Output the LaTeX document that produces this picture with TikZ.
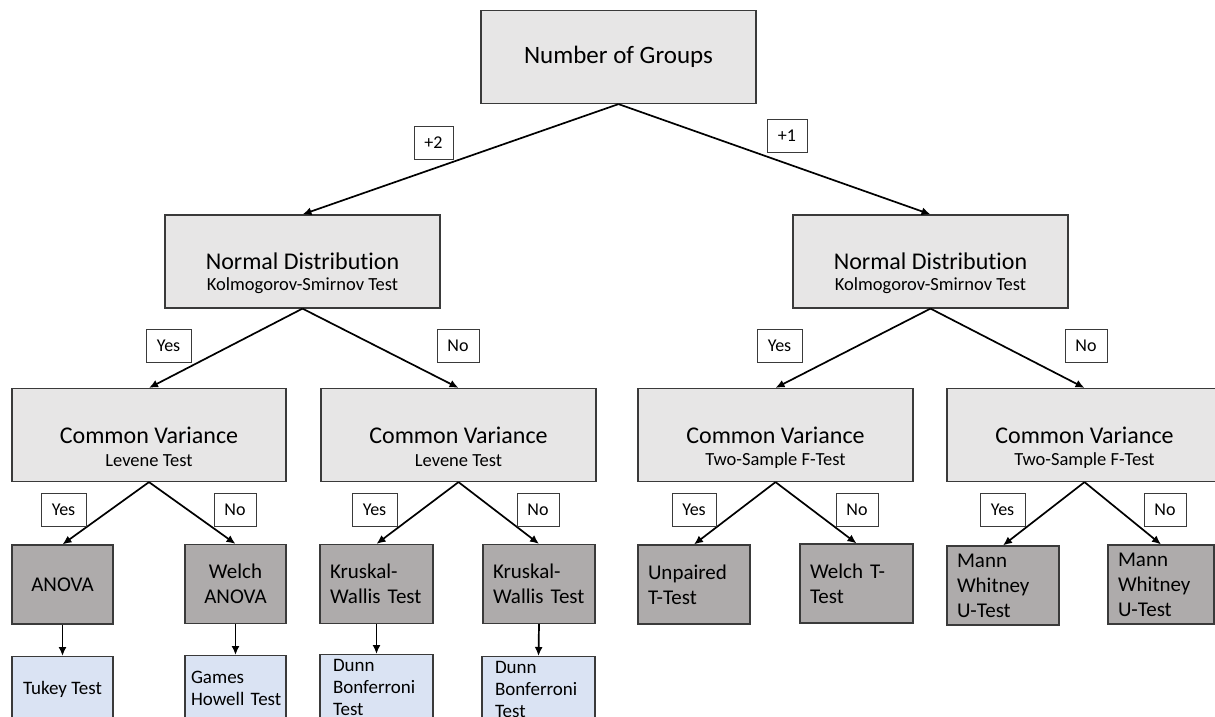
\documentclass[tikz,border=0pt]{standalone}
\usepackage{fontspec}
\setmainfont{Carlito}[Ligatures=NoCommon]
\usepackage{xcolor}
\definecolor{linegray}{HTML}{3A3A3A}
\definecolor{boxgray}{HTML}{E7E6E6}
\definecolor{testgray}{HTML}{AEABAB}
\definecolor{postblue}{HTML}{DAE3F3}
\usetikzlibrary{arrows.meta,positioning}
\tikzset{%
    box/.style={draw=linegray, line width=1.2pt, inner sep=0pt},
    groupbox/.style={box, fill=boxgray, minimum width=275pt, minimum height=93pt,
        font=\fontsize{24}{28}\selectfont},
    subtxt/.style={inner sep=0pt, font=\fontsize{18.5}{22}\selectfont},
    testbox/.style={box, fill=testgray, minimum height=79pt,
        font=\fontsize{21}{25}\selectfont},
    posthoc/.style={box, fill=postblue, minimum height=66pt, anchor=north,
        font=\fontsize{19}{22}\selectfont},
    lefttext/.style 2 args={align=left, text width=#1, inner xsep=#2},
    answer/.style={draw=linegray, line width=1pt, fill=white, inner sep=0pt,
        minimum width=44pt, minimum height=33pt, font=\fontsize{18}{21}\selectfont},
    flow/.style={-{Latex[length=9pt,width=8pt]}, line width=1.7pt}
}
\begin{document}
\begin{tikzpicture}[x=1pt,y=-1pt]
    \path[use as bounding box, fill=white] (0,0) rectangle (1215,717);

    % first split
    \node[groupbox, font=\fontsize{25}{29}\selectfont] (groups) at (618.5,57) {Number of Groups};
    \node[groupbox] (ndL) at (302.5,261.5) {Normal Distribution};
    \node[groupbox] (ndR) at (930.5,261.5) {Normal Distribution};
    \node[subtxt] (ndLsub) at ([yshift=-24pt]ndL.center) {Kolmogorov-Smirnov Test};
    \node[subtxt] (ndRsub) at ([yshift=-24pt]ndR.center) {Kolmogorov-Smirnov Test};
    \draw[flow] (groups.south) -- (ndL.north);
    \draw[flow] (groups.south) -- (ndR.north);
    \node[answer, minimum width=39pt] (two) at (433.5,142.5) {+2};
    \node[answer, minimum width=40pt] (one) at (787,135.5) {+1};

    % variance checks
    \node[groupbox, minimum width=274pt] (cv1) at (149,435) {Common Variance};
    \node[groupbox] (cv2) at (458.5,435) {Common Variance};
    \node[groupbox] (cv3) at (775.5,435) {Common Variance};
    \node[groupbox] (cv4) at (1084.5,435) {Common Variance};
    \node[subtxt] (cv1sub) at ([yshift=-26pt]cv1.center) {Levene Test};
    \node[subtxt] (cv2sub) at ([yshift=-26pt]cv2.center) {Levene Test};
    \node[subtxt] (cv3sub) at ([yshift=-26pt]cv3.center) {Two-Sample F-Test};
    \node[subtxt] (cv4sub) at ([yshift=-26pt]cv4.center) {Two-Sample F-Test};
    \draw[flow] (ndL.south) -- (cv1.north);
    \draw[flow] (ndL.south) -- (cv2.north);
    \draw[flow] (ndR.south) -- (cv3.north);
    \draw[flow] (ndR.south) -- (cv4.north);
    \node[answer, minimum width=45pt] (yesL) at (168.5,345.5) {Yes};
    \node[answer, minimum width=42pt] (noL) at (458,345.5) {No};
    \node[answer, minimum width=45pt] (yesR) at (779.5,345.5) {Yes};
    \node[answer, minimum width=42pt] (noR) at (1086,345.5) {No};

    % tests
    \node[testbox, minimum width=101pt] (anova) at (62.5,584.5) {ANOVA};
    \node[testbox, minimum width=101pt, align=center] (welch) at (235.5,584) {Welch\\ANOVA};
    \node[testbox, lefttext={93pt}{10pt}] (kw1) at (376.5,584) {Kruskal-\\Wallis Test};
    \node[testbox, lefttext={92pt}{10pt}] (kw2) at (539,584) {Kruskal-\\Wallis Test};
    \node[testbox, lefttext={92pt}{10pt}] (unpaired) at (694,584.5) {Unpaired\\T-Test};
    \node[testbox, lefttext={93pt}{10pt}] (welcht) at (856.5,583.5) {Welch T-\\Test};
    \node[testbox, lefttext={92pt}{10pt}] (mw1) at (1003,585.5) {Mann\\Whitney\\U-Test};
    \node[testbox, lefttext={86pt}{10pt}] (mw2) at (1161,584.5) {Mann\\Whitney\\U-Test};
    \foreach \cv/\a/\b in {cv1/anova/welch, cv2/kw1/kw2, cv3/unpaired/welcht, cv4/mw1/mw2}{
        \draw[flow] (\cv.south) -- (\a.north);
        \draw[flow] (\cv.south) -- (\b.north);
    }
    \node[answer, minimum width=45pt] (yes1) at (63.5,509.5) {Yes};
    \node[answer, minimum width=42pt] (no1) at (235,509.5) {No};
    \node[answer, minimum width=45pt] (yes2) at (374.5,509.5) {Yes};
    \node[answer, minimum width=42pt] (no2) at (538,509.5) {No};
    \node[answer, minimum width=44pt] (yes3) at (694,509.5) {Yes};
    \node[answer, minimum width=42pt] (no3) at (857,509.5) {No};
    \node[answer, minimum width=45pt] (yes4) at (1002.5,509.5) {Yes};
    \node[answer, minimum width=42pt] (no4) at (1165,509.5) {No};

    % post-hoc tests
    \node[posthoc, minimum width=101pt] (tukey) at (62.5,656) {Tukey Test};
    \node[posthoc, lefttext={89pt}{6pt}] (games) at (235.5,655) {Games\\Howell~Test};
    \node[posthoc, lefttext={87pt}{13pt}] (dunn1) at (376.5,654) {Dunn\\Bonferroni\\Test};
    \node[posthoc, lefttext={87pt}{13pt}] (dunn2) at (538.5,656) {Dunn\\Bonferroni\\Test};
    \draw[flow] (anova.south) -- (tukey.north);
    \draw[flow] (welch.south) -- (games.north);
    \draw[flow] (kw1.south) -- (dunn1.north);
    \draw[flow] (kw2.south) -- (dunn2.north);
\end{tikzpicture}
\end{document}
